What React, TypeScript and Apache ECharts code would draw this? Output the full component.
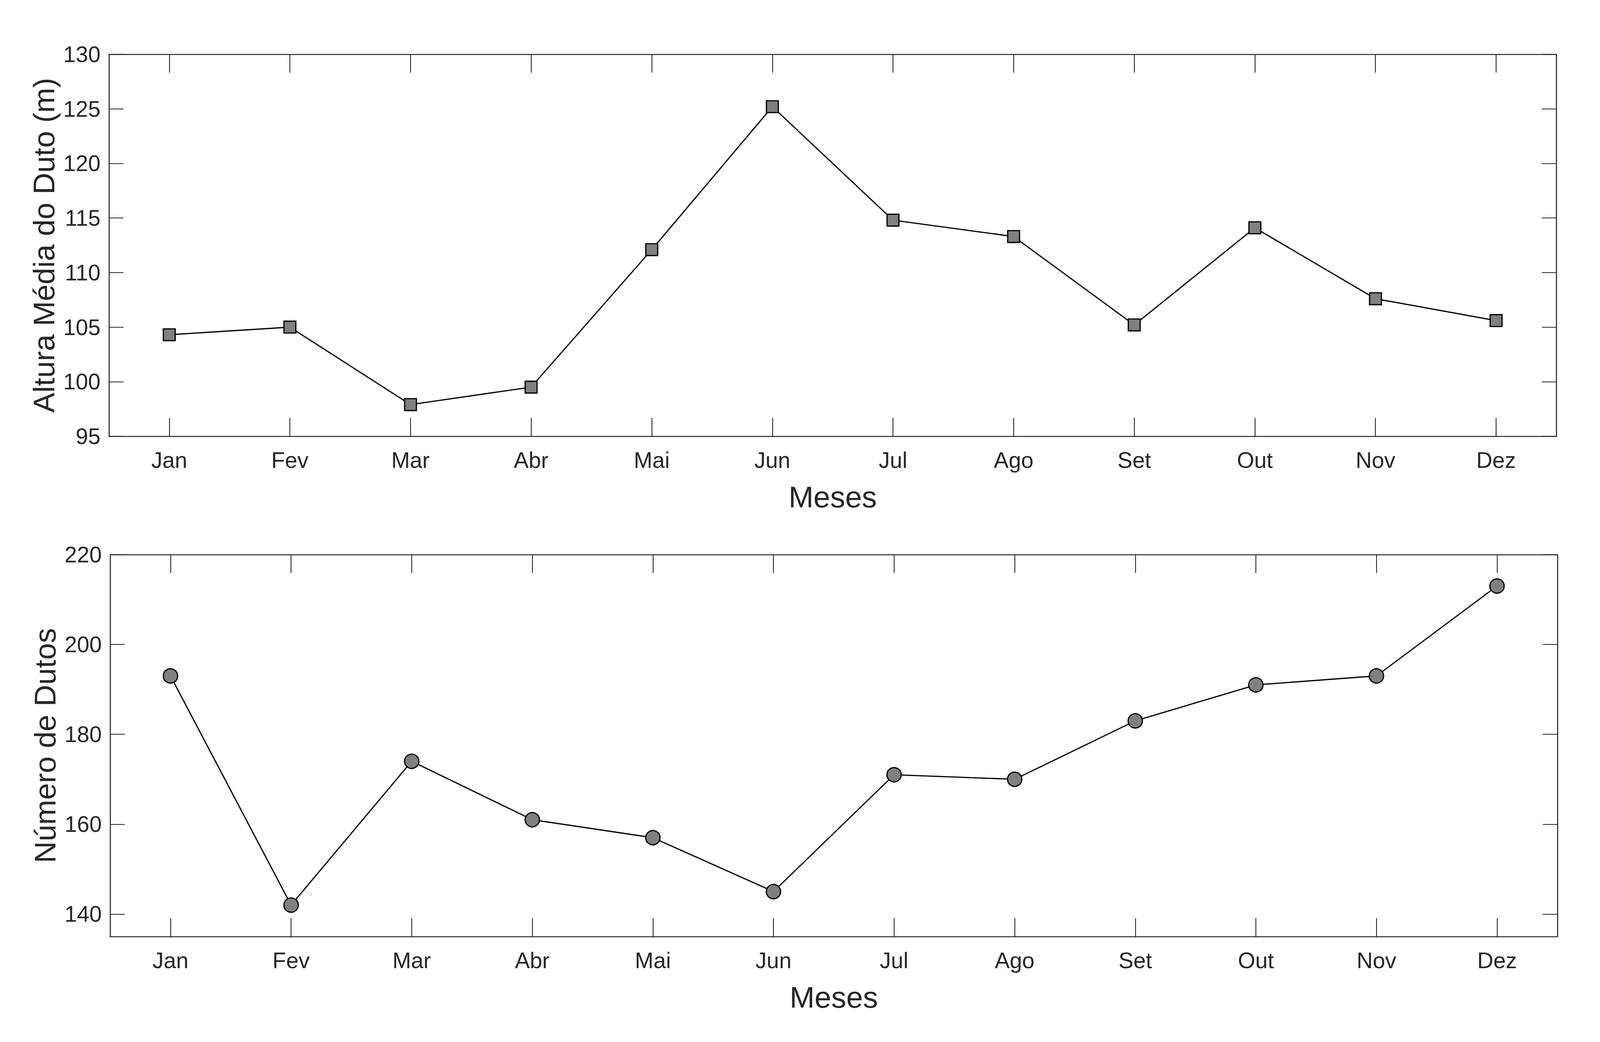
import React, { useEffect, useRef } from "react";
import * as echarts from "echarts";

const months = ["Jan", "Fev", "Mar", "Abr", "Mai", "Jun", "Jul", "Ago", "Set", "Out", "Nov", "Dez"];
const alturaMedia = [104.3, 105.0, 97.9, 99.5, 112.1, 125.2, 114.8, 113.3, 105.2, 114.1, 107.6, 105.6];
const numeroDutos = [193, 142, 174, 161, 157, 145, 171, 170, 183, 191, 193, 213];
const bottomTicks = [140, 160, 180, 200, 220];

const FONT = "'Liberation Sans', Arial, Helvetica, sans-serif";
const INK = "#262626";
const REF_W = 5140;
const REF_H = 2668;

function buildOption(sx: number, sy: number) {
  const f = Math.sqrt(sx * sy);
  const tickFont = 64 * f;
  const titleFont = 86 * f;

  const xAxes = (gridIndex: number) => {
    const common = {
      gridIndex,
      type: "category" as const,
      data: months,
      boundaryGap: true,
      axisLine: { show: true, lineStyle: { color: INK, width: 3 * f } },
      axisTick: {
        show: true,
        inside: true,
        length: 47 * sy,
        alignWithLabel: true,
        interval: 0,
        lineStyle: { color: INK, width: 2.5 * f },
      },
      splitLine: { show: false },
    };
    return [
      {
        ...common,
        position: "bottom",
        axisLabel: {
          show: true,
          interval: 0,
          fontSize: tickFont,
          color: INK,
          fontFamily: FONT,
          margin: 60 * sy - 0.49 * tickFont,
        },
        name: "Meses",
        nameLocation: "middle",
        nameGap: 155 * sy - 0.5 * titleFont,
        nameTextStyle: { fontSize: titleFont, color: INK, fontFamily: FONT },
      },
      { ...common, position: "top", axisLabel: { show: false } },
    ];
  };

  const yAxes = (
    gridIndex: number,
    name: string,
    baselineDist: number,
    extra: any,
    labelExtra: any,
    tickExtra: any
  ) => {
    const common = {
      gridIndex,
      type: "value" as const,
      ...extra,
      axisLine: { show: true, lineStyle: { color: INK, width: 3 * f } },
      axisTick: {
        show: true,
        inside: true,
        length: 47 * sx,
        lineStyle: { color: INK, width: 2.5 * f },
        ...tickExtra,
      },
      splitLine: { show: false },
    };
    return [
      {
        ...common,
        position: "left",
        axisLabel: { show: true, fontSize: tickFont, color: INK, fontFamily: FONT, margin: 27 * sx, ...labelExtra },
        name,
        nameLocation: "middle",
        nameGap: baselineDist * sx - 0.08 * titleFont,
        nameTextStyle: { fontSize: titleFont, color: INK, fontFamily: FONT },
      },
      { ...common, position: "right", axisLabel: { show: false } },
    ];
  };

  return {
    animation: false,
    backgroundColor: "#ffffff",
    textStyle: { fontFamily: FONT },
    grid: [
      { left: 350 * sx, top: 139 * sy, width: 4650 * sx, height: 978 * sy },
      { left: 354 * sx, top: 1420 * sy, width: 4649 * sx, height: 978 * sy },
    ],
    xAxis: [...xAxes(0), ...xAxes(1)],
    yAxis: [
      ...yAxes(0, "Altura Média do Duto (m)", 164, { min: 95, max: 130, interval: 5 }, {}, {}),
      ...yAxes(
        1,
        "Número de Dutos",
        166,
        { min: 135, max: 220 },
        { customValues: bottomTicks },
        { customValues: bottomTicks }
      ),
    ],
    series: [
      {
        type: "line",
        xAxisIndex: 0,
        yAxisIndex: 0,
        data: alturaMedia,
        symbol: "rect",
        symbolSize: 34 * f,
        showAllSymbol: true,
        lineStyle: { color: "#000000", width: 3.5 * f },
        itemStyle: { color: "#808080", borderColor: "#000000", borderWidth: 3.5 * f },
      },
      {
        type: "line",
        xAxisIndex: 2,
        yAxisIndex: 2,
        data: numeroDutos,
        symbol: "circle",
        symbolSize: 41 * f,
        showAllSymbol: true,
        lineStyle: { color: "#000000", width: 3.5 * f },
        itemStyle: { color: "#808080", borderColor: "#000000", borderWidth: 3.5 * f },
      },
    ],
  };
}

export default function App() {
  const ref = useRef<HTMLDivElement>(null);
  useEffect(() => {
    document.body.style.margin = "0";
    document.body.style.overflow = "hidden";
    if (!ref.current) return;
    const w = window.innerWidth || REF_W;
    const h = window.innerHeight || REF_H;
    ref.current.style.width = w + "px";
    ref.current.style.height = h + "px";
    const sx = w / REF_W;
    const sy = h / REF_H;
    const chart = echarts.init(ref.current, null, { renderer: "svg", width: w, height: h });
    chart.setOption(buildOption(sx, sy) as any);
    return () => chart.dispose();
  }, []);
  return <div ref={ref} style={{ width: "100vw", height: "100vh" }} />;
}
